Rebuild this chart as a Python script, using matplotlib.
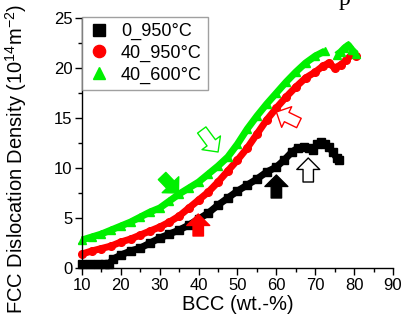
import numpy as np
import matplotlib
matplotlib.use("Agg")
import matplotlib.pyplot as plt  # noqa: E402

plt.rcParams["font.family"] = ["Liberation Sans", "DejaVu Sans"]
plt.rcParams["mathtext.fontset"] = "custom"
plt.rcParams["mathtext.rm"] = "Liberation Sans"
plt.rcParams["mathtext.it"] = "Liberation Sans:italic"

# values
bcc_0_950 = [10, 12, 14, 16, 17, 18, 20, 22.5, 25, 27.5, 30, 32.5, 35, 37.5, 40,
             42.5, 45, 47.5, 50, 52.5, 55, 57.5, 60, 62, 64, 65.5, 67, 68.5,
             69.5, 70.5, 71.5, 72.5, 73.5, 74.5, 75.5, 76]
rho_0_950 = [0.4, 0.4, 0.4, 0.4, 0.4, 0.9, 1.3, 1.7, 2.0, 2.5, 3.0, 3.4, 3.8, 4.3,
             4.9, 5.5, 6.3, 7.0, 7.7, 8.3, 8.9, 9.6, 10.1, 10.8, 11.6, 12.0, 12.1,
             12.0, 11.8, 12.4, 12.6, 12.4, 12.1, 11.6, 11.0, 10.8]

bcc_40_950 = [10, 12.5, 15, 17.5, 20, 22.5, 25, 27.5, 30, 32.5, 35, 37.5, 40, 42.5,
              45, 47.5, 50, 52.5, 55, 57.5, 60, 62.5, 65, 67.5, 70, 72, 73.5, 75,
              76.5, 78, 79.5, 80.5]
rho_40_950 = [1.4, 1.7, 1.95, 2.2, 2.6, 2.9, 3.3, 3.7, 4.1, 4.6, 5.2, 6.0, 6.8, 7.6,
              8.6, 9.7, 10.8, 12.0, 13.4, 14.8, 16.0, 17.1, 18.1, 19.0, 19.6, 20.2,
              20.5, 20.0, 20.3, 20.8, 21.4, 21.2]

bcc_40_600 = [10, 12.5, 15, 17.5, 20, 22.5, 25, 27.5, 30, 32.5, 35, 37.5, 40, 42.5,
              45, 47.5, 50, 52.5, 55, 57.5, 60, 62.5, 65, 67.5, 70, 72.5, np.nan,
              75.5, 76.5, 77.5, 78.5, 79.5, 80.5]
rho_40_600 = [2.8, 3.1, 3.4, 3.8, 4.2, 4.6, 5.1, 5.6, 6.0, 6.7, 7.4, 8.0, 8.6, 9.4,
              10.2, 11.1, 12.4, 13.9, 15.2, 16.4, 17.5, 18.6, 19.6, 20.5, 21.2, 21.7,
              np.nan, 21.3, 21.6, 22.0, 22.3, 21.8, 21.4]

GREEN = "#00f000"
RED = "#ff0000"

# arrows: (tail, tip, color, filled)
arrows = [
    ((30.6, 9.2), (34.8, 7.5), GREEN, True),
    ((40.8, 13.8), (45.0, 11.6), GREEN, False),
    ((39.9, 3.2), (39.9, 5.4), RED, True),
    ((65.8, 14.5), (60.0, 15.6), RED, False),
    ((60.0, 7.0), (60.0, 9.3), "black", True),
    ((68.2, 8.6), (68.2, 11.0), "black", False),
]

fig = plt.figure(figsize=(4.02, 3.24), dpi=100)
ax = fig.add_axes([82 / 402, 56 / 324, 311 / 402, 250 / 324])

series = [
    (bcc_0_950, rho_0_950, "black", "s", "0_950\u00b0C"),
    (bcc_40_950, rho_40_950, RED, "o", "40_950\u00b0C"),
    (bcc_40_600, rho_40_600, GREEN, "^", "40_600\u00b0C"),
]
for x, y, c, m, lab in series:
    ax.plot(x, y, color=c, lw=5.0, solid_capstyle="butt", clip_on=False, zorder=2)
    ax.plot(x, y, ls="none", marker=m, ms=5.5, color=c, mec=c, label=lab,
            clip_on=False, zorder=2)

for tail, tip, c, filled in arrows:
    ax.annotate("", xy=tip, xytext=tail,
                arrowprops=dict(arrowstyle="simple,head_length=0.55,head_width=1.1,tail_width=0.5",
                                fc=c if filled else "white", ec=c, lw=1.0,
                                mutation_scale=15, shrinkA=0, shrinkB=0),
                zorder=4)

ax.set_xlim(10, 90)
ax.set_ylim(0, 25)
ax.set_xticks(np.arange(10, 91, 10))
ax.set_yticks(np.arange(0, 26, 5))
ax.set_xticks(np.arange(15, 90, 10), minor=True)
ax.set_yticks(np.arange(2.5, 25, 5), minor=True)
ax.tick_params(which="major", direction="out", length=5, width=1, labelsize=12, pad=2)
ax.tick_params(which="minor", direction="out", length=3, width=1)
for side in ["top", "right"]:
    ax.spines[side].set_visible(False)
for side in ["left", "bottom"]:
    ax.spines[side].set_linewidth(1)

ax.set_xlabel("BCC (wt.-%)", fontsize=14.5, labelpad=2)
ax.set_ylabel("FCC Dislocation Density (10$^{14}$m$^{-2}$)", fontsize=14.5)
ax.yaxis.set_label_coords(-0.17, 0.436)

leg = ax.legend(loc="upper left", bbox_to_anchor=(0.0, 1.005), borderaxespad=0,
                fontsize=13, markerscale=1.6, handlelength=1.2, handletextpad=0.6,
                labelspacing=0.25, borderpad=0.35, frameon=True, fancybox=False)
leg.get_frame().set_edgecolor("#888888")
leg.get_frame().set_linewidth(1)

fig.text(345 / 402, 1 - 5 / 324, "p", fontsize=17, family="Liberation Serif",
         va="baseline", ha="center")

fig.savefig("out.png", dpi=100)
